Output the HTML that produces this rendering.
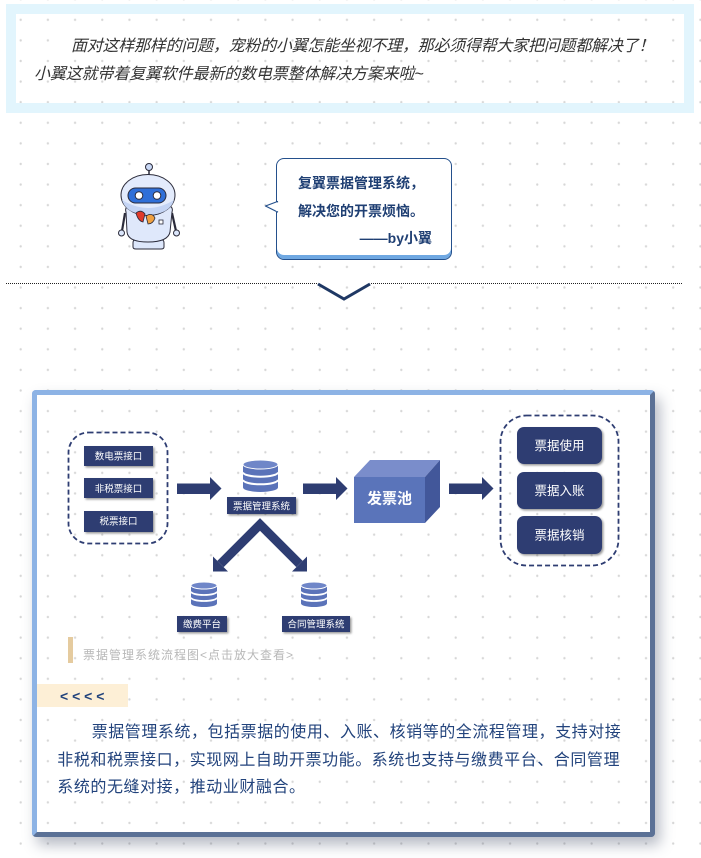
<!DOCTYPE html>
<html><head><meta charset="utf-8">
<style>
html,body{margin:0;padding:0;}
body{width:701px;height:858px;position:relative;overflow:hidden;background-color:#fff;
background-image:radial-gradient(circle at center,#d6d6d6 0,#d6d6d6 0.8px,rgba(214,214,214,0) 1.5px);
background-size:27.2px 20.6px;background-position:7.1px 9.5px;
font-family:"Liberation Sans","Noto Sans CJK SC",sans-serif;}
.a{position:absolute;white-space:nowrap;}
.topbox{left:6px;top:4px;width:688px;height:109px;border:10px solid #e2f5fd;box-sizing:border-box;}
.it{font-size:16px;line-height:28px;font-style:italic;color:#333;}
.bubble{left:276px;top:158px;width:176px;height:102px;box-sizing:border-box;background:#fff;border:1.5px solid #24508c;border-radius:8px;box-shadow:inset 0 -4px 0 #6fa8e2;}
.bt{font-size:14px;line-height:28px;font-weight:bold;color:#1f3f73;}
.card{left:32px;top:390px;width:623px;height:447px;box-sizing:border-box;border-style:solid;border-width:5px;border-color:#8db3e5 #5b7196 #5b7196 #8db3e5;border-radius:4px;box-shadow:5px 8px 14px rgba(50,60,90,0.35);}
.para{font-size:16px;letter-spacing:0.55px;line-height:28px;color:#22437c;}
svg text{font-family:"Liberation Sans","Noto Sans CJK SC",sans-serif;}
</style></head><body>

<div class="a topbox"></div>
<div class="a it" style="left:71px;top:32.5px;letter-spacing:-0.24px;">面对这样那样的问题，宠粉的小翼怎能坐视不理，那必须得帮大家把问题都解决了！</div>
<div class="a it" style="left:34px;top:60.5px;letter-spacing:-0.15px;">小翼这就带着复翼软件最新的数电票整体解决方案来啦~</div>

<div class="a bubble"></div>
<div class="a bt" style="left:298px;top:169px;">复翼票据管理系统，</div>
<div class="a bt" style="left:298px;top:197px;">解决您的开票烦恼。</div>
<div class="a bt" style="right:269px;top:224px;">——by小翼</div>

<div class="a" style="left:6px;top:283px;width:311px;border-top:1px dotted #222;"></div>
<div class="a" style="left:371px;top:283px;width:311px;border-top:1px dotted #222;"></div>

<div class="a card"></div>

<svg class="a" style="left:0;top:0" width="701" height="858" viewBox="0 0 701 858">
<defs>
<filter id="sh" x="-20%" y="-20%" width="150%" height="160%"><feDropShadow dx="1.5" dy="1.5" stdDeviation="1" flood-color="#000" flood-opacity="0.4"/></filter>
</defs>
<!-- bubble tail -->
<polygon points="277.5,201.5 265.5,206 277.5,212" fill="#fff" stroke="#24508c" stroke-width="1.2" stroke-linejoin="round"/>
<rect x="276.3" y="202.4" width="2.2" height="8.8" fill="#fff"/>
<!-- chevron -->
<polyline points="318,284 344,299 370,284" fill="none" stroke="#1f3864" stroke-width="3"/>

<!-- robot -->
<g stroke="#2b2b3a" stroke-width="1">
<line x1="149" y1="170" x2="149" y2="177" stroke-width="1.5"/>
<circle cx="149" cy="167" r="3.5" fill="#c9d8f5"/>
<path d="M125,213 L122,231" stroke-width="2.2" fill="none"/>
<path d="M172,213 L176,231" stroke-width="2.2" fill="none"/>
<circle cx="121.5" cy="233" r="3" fill="#dbe6fb"/>
<circle cx="176.5" cy="233" r="3" fill="#dbe6fb"/>
<path d="M135,240 L162,240 Q164,240 164,243 L164,247 Q164,249 161,249 L136,249 Q133,249 133,247 L133,243 Q133,240 135,240 Z" fill="#dde7fb"/>
<path d="M126,212 Q124,206 132,205 L166,205 Q174,206 172,212 L170,232 Q168,242 148,242 Q128,242 127,232 Z" fill="#dfe8fb"/>
<ellipse cx="148" cy="195" rx="27" ry="20.5" fill="#e3ebfc"/>
<path d="M122,200 Q148,216 174,200 Q170,214 148,215 Q126,214 122,200 Z" fill="#c4d4f4" stroke="none"/>
<rect x="128" y="188" width="38" height="15" rx="7.5" fill="#2f6fd8"/>
<circle cx="139" cy="195.5" r="3.8" fill="#fff"/>
<circle cx="157" cy="195.5" r="3.8" fill="#fff"/>
<path d="M136,213 Q141,209 145,214 L143,222 Q138,221 136,213 Z" fill="#e03a2a" stroke-width="0.8"/>
<path d="M146,216 Q152,212 155,218 Q153,224 148,224 Z" fill="#f0a040" stroke-width="0.8"/>
<rect x="159" y="220" width="4" height="4" fill="#fff" stroke-width="0.8"/>
</g>

<!-- left dashed group -->
<rect x="68.5" y="432.5" width="99" height="111" rx="20" fill="none" stroke="#2e3d72" stroke-width="1.8" stroke-dasharray="5 3"/>
<g fill="#2e3d72" filter="url(#sh)">
<rect x="84" y="446" width="69" height="20"/>
<rect x="84" y="478" width="69" height="20"/>
<rect x="84" y="511" width="69" height="21"/>
</g>
<g fill="#fff" font-size="9.5" text-anchor="middle">
<text x="118.5" y="459.3">数电票接口</text>
<text x="118.5" y="491.9">非税票接口</text>
<text x="118.5" y="524.6">税票接口</text>
</g>

<!-- arrows -->
<g fill="#2e3d72">
<polygon points="177,483.5 210,483.5 210,477 221.5,488.5 210,500 210,494 177,494"/>
<polygon points="303,483.5 336,483.5 336,477 347.5,488.5 336,500 336,494 303,494"/>
<polygon points="449,483.5 482,483.5 482,477 493.5,488.5 482,500 482,494 449,494"/>
</g>

<!-- big DB -->
<g>
<path d="M243,464.5 L243,487.5 A17.5,4.5 0 0 0 278,487.5 L278,464.5 A17.5,4.5 0 0 0 243,464.5 Z" fill="#5b73b9"/>
<path d="M243,472.2 A17.5,4.5 0 0 0 278,472.2" fill="none" stroke="#fff" stroke-width="2"/>
<path d="M243,479.8 A17.5,4.5 0 0 0 278,479.8" fill="none" stroke="#fff" stroke-width="2"/>
<ellipse cx="260.5" cy="464.5" rx="17.5" ry="4.5" fill="#6f86c8" stroke="#fff" stroke-width="1"/>
</g>
<rect x="227" y="497" width="69" height="17" fill="#2e3d72" filter="url(#sh)"/>
<text x="261.5" y="509.3" fill="#fff" font-size="9.5" text-anchor="middle">票据管理系统</text>

<!-- V arrows -->
<polyline points="220.5,564 260,524.5 299.5,564" fill="none" stroke="#2e3d72" stroke-width="9" stroke-linejoin="miter"/>
<polygon points="213,571.5 213,556.5 228,571.5" fill="#2e3d72"/>
<polygon points="307,571.5 307,556.5 292,571.5" fill="#2e3d72"/>

<!-- small DBs -->
<g>
<path d="M191,585.5 L191,603.5 A13,3.5 0 0 0 217,603.5 L217,585.5 A13,3.5 0 0 0 191,585.5 Z" fill="#5b73b9"/>
<path d="M191,591.5 A13,3.5 0 0 0 217,591.5" fill="none" stroke="#fff" stroke-width="1.8"/>
<path d="M191,597.5 A13,3.5 0 0 0 217,597.5" fill="none" stroke="#fff" stroke-width="1.8"/>
<ellipse cx="204" cy="585.5" rx="13" ry="3.5" fill="#6f86c8" stroke="#fff" stroke-width="1"/>
<path d="M301,585.5 L301,603.5 A13,3.5 0 0 0 327,603.5 L327,585.5 A13,3.5 0 0 0 301,585.5 Z" fill="#5b73b9"/>
<path d="M301,591.5 A13,3.5 0 0 0 327,591.5" fill="none" stroke="#fff" stroke-width="1.8"/>
<path d="M301,597.5 A13,3.5 0 0 0 327,597.5" fill="none" stroke="#fff" stroke-width="1.8"/>
<ellipse cx="314" cy="585.5" rx="13" ry="3.5" fill="#6f86c8" stroke="#fff" stroke-width="1"/>
</g>
<g fill="#2e3d72" filter="url(#sh)">
<rect x="177" y="616" width="50" height="16"/>
<rect x="282" y="616" width="68" height="16"/>
</g>
<g fill="#fff" font-size="9.5" text-anchor="middle">
<text x="202" y="627.6">缴费平台</text>
<text x="316" y="627.6">合同管理系统</text>
</g>

<!-- cube -->
<polygon points="354,477 370,460 440,460 425,477" fill="#7a8dcb"/>
<polygon points="425,477 440,460 440,507 425,523" fill="#42579a"/>
<rect x="354" y="477" width="71" height="46" fill="#5a74ba"/>
<text x="389.5" y="503.7" fill="#fff" font-size="15" font-weight="bold" text-anchor="middle">发票池</text>

<!-- right dashed group -->
<rect x="500.5" y="415.5" width="118" height="150" rx="26" fill="none" stroke="#2e3d72" stroke-width="1.8" stroke-dasharray="5 3"/>
<g fill="#2e3d72" filter="url(#sh)">
<rect x="517" y="427" width="85" height="37" rx="7"/>
<rect x="517" y="472" width="85" height="37" rx="7"/>
<rect x="517" y="516" width="85" height="38" rx="7"/>
</g>
<g fill="#fff" font-size="12.5" text-anchor="middle">
<text x="559.5" y="450">票据使用</text>
<text x="559.5" y="495">票据入账</text>
<text x="559.5" y="539.5">票据核销</text>
</g>

<!-- caption bar & tag -->
<rect x="68" y="637" width="5" height="26" fill="#e5cb9f"/>
<rect x="37" y="684" width="91" height="23" fill="#fdefd6"/>
</svg>

<div class="a" style="left:83px;top:646px;font-size:12px;line-height:18px;letter-spacing:1px;color:#b8b8b8;">票据管理系统流程图&lt;点击放大查看&gt;</div>
<div class="a" style="left:60px;top:686px;font-size:14px;line-height:20px;font-weight:bold;color:#22437c;">&lt; &lt; &lt; &lt;</div>

<div class="a para" style="left:91.7px;top:719px;">票据管理系统，包括票据的使用、入账、核销等的全流程管理，支持对接</div>
<div class="a para" style="left:57.3px;top:747px;">非税和税票接口，实现网上自助开票功能。系统也支持与缴费平台、合同管理</div>
<div class="a para" style="left:57.3px;top:774px;">系统的无缝对接，推动业财融合。</div>

</body></html>
